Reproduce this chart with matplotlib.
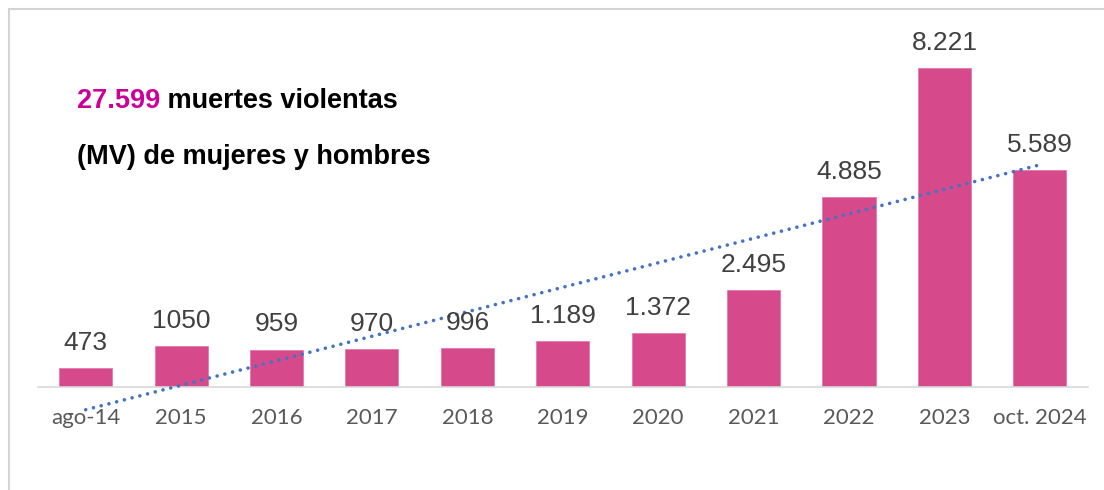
import numpy as np
import matplotlib
matplotlib.use("Agg")
import matplotlib.pyplot as plt
from matplotlib.patches import Rectangle

categories = ["ago-14", "2015", "2016", "2017", "2018", "2019", "2020", "2021", "2022", "2023", "oct. 2024"]
values = [473, 1050, 959, 970, 996, 1189, 1372, 2495, 4885, 8221, 5589]
value_labels = ["473", "1050", "959", "970", "996", "1.189", "1.372", "2.495", "4.885", "8.221", "5.589"]

W, H = 1104, 490
fig = plt.figure(figsize=(W / 100, H / 100), dpi=100)
fig.patch.set_facecolor("white")

# outer frame
fig.add_artist(Rectangle((9 / W, -0.1), 1.2, (H - 9) / H + 0.1, transform=fig.transFigure,
                         fill=False, edgecolor="#D4D4D4", linewidth=1.5))

ax = fig.add_axes([38 / W, (H - 386.7) / H, (1087.5 - 38) / W, 349 / H])
x = np.arange(len(categories))
ax.bar(x, values, width=0.556, color="#D6498A", edgecolor="#E27AAA", linewidth=0.6, zorder=2)

# linear trend line
coef = np.polyfit(x, values, 1)
trend = np.polyval(coef, x)
ax.plot(x, trend, color="#4472C4", linewidth=2.6, linestyle=(0, (0.01, 2.2)),
        dash_capstyle="round", zorder=3, clip_on=False)

for xi, v, lab in zip(x, values, value_labels):
    ax.annotate(lab, (xi, v), xytext=(0, 13), textcoords="offset points",
                ha="center", va="baseline", fontsize=19, color="#404040",
                family="Liberation Sans")

ax.set_xlim(-0.5, len(categories) - 0.5)
ax.set_ylim(0, 9000)
ax.set_xticks(x)
ax.set_xticklabels(categories, fontsize=16, color="#595959", family="Lato")
ax.tick_params(axis="x", length=0, pad=15)
ax.set_yticks([])
for s in ["top", "right", "left"]:
    ax.spines[s].set_visible(False)
ax.spines["bottom"].set_color("#D9D9D9")
ax.spines["bottom"].set_linewidth(1.2)
ax.patch.set_alpha(0)

# annotation text
fs = 19.5
t1 = fig.text(77 / W, (H - 108) / H, "27.599", fontsize=fs, fontweight="bold",
              color="#CC0099", family="Liberation Sans", va="baseline", ha="left")
fig.canvas.draw()
bb = t1.get_window_extent()
fig.text(bb.x1 / W, (H - 108) / H, " muertes violentas", fontsize=fs, fontweight="bold",
         color="black", family="Liberation Sans", va="baseline", ha="left")
fig.text(77 / W, (H - 164) / H, "(MV) de mujeres y hombres", fontsize=fs, fontweight="bold",
         color="black", family="Liberation Sans", va="baseline", ha="left")

fig.savefig("out.png", dpi=100, facecolor="white")
